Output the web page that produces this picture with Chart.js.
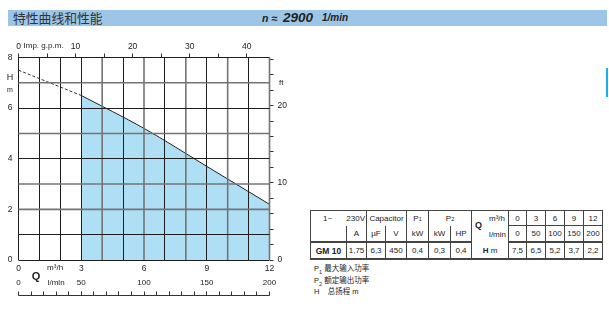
<!DOCTYPE html>
<html>
<head>
<meta charset="utf-8">
<script src="https://cdn.jsdelivr.net/npm/chart.js@4.4.1/dist/chart.umd.min.js"></script>
<style>
body { margin: 0; width: 609px; height: 310px; background: #fff; position: relative; overflow: hidden;
       font-family: 'Liberation Sans', Arial, sans-serif; color: #222; }
#bar { position: absolute; left: 8px; top: 10px; width: 599px; height: 16px; background: #9dc5e6; }
#bar .cn { position: absolute; left: 5px; top: 0; font: 400 12.8px 'Noto Sans CJK SC'; line-height: 16px; color: #333; }
#bar .sp { position: absolute; top: 0; line-height: 16px; font-weight: bold; font-style: italic; color: #222; white-space: nowrap; }
#marker { position: absolute; left: 606px; top: 68px; width: 2px; height: 29px; background: #19aef0; }
#c { position: absolute; left: 0; top: 0; }
#spec { position: absolute; left: 310px; top: 210px; width: 292px; border-collapse: collapse; table-layout: fixed;
        font-size: 8px; border-top: 1px solid #444; border-right: 1px solid #444; border-left: 1px solid #444; }
#spec td { padding: 0; text-align: center; white-space: nowrap; border-left: 1px solid #444; vertical-align: middle; }
#spec tr.r1 td { height: 14px; }
#spec tr.r2 td { height: 15px; border-bottom: 2px solid #444; }
#spec tr.r3 td { height: 15px; border-bottom: 2px solid #444; }
#spec tr.r1 td.v { border-bottom: 1px solid #444; }
#spec sub { font-size: 5.5px; vertical-align: baseline; position: relative; top: 0; }
#notes { position: absolute; left: 314px; top: 264px; font-size: 7.5px; line-height: 8px; color: #222; }
#notes .cn { font-family: 'Noto Sans CJK SC'; }
</style>
</head>
<body>
<div id="bar">
  <span class="cn">特性曲线和性能</span>
  <span class="sp" style="left:254px;font-size:10.5px">n ≈</span>
  <span class="sp" style="left:275px;font-size:13.5px">2900</span>
  <span class="sp" style="left:314px;font-size:10px">1/min</span>
</div>
<div id="marker"></div>
<canvas id="c" width="300" height="310"></canvas>
<table id="spec">
  <colgroup>
    <col style="width:36px"><col style="width:20px"><col style="width:19px"><col style="width:21px">
    <col style="width:22px"><col style="width:22px"><col style="width:21px"><col style="width:37px">
    <col style="width:18px"><col style="width:19px"><col style="width:19px"><col style="width:19px"><col style="width:19px">
  </colgroup>
  <tr class="r1" id="row1">
    <td colspan="2" style="text-align:left"><span style="margin-left:12px">1~</span><span style="float:right;margin-right:1px">230V</span></td>
    <td colspan="2">Capacitor</td>
    <td>P<sub>1</sub></td>
    <td colspan="2">P<sub>2</sub></td>
    <td rowspan="2" style="position:relative;text-align:left">
      <span style="position:absolute;right:3px;top:3px">m³/h</span>
      <span style="position:absolute;left:3px;top:9px;font-weight:bold;font-size:9px">Q</span>
      <span style="position:absolute;right:2px;top:19px">l/min</span>
    </td>
  </tr>
  <tr class="r2" id="row2">
    <td></td><td>A</td><td>µF</td><td>V</td><td>kW</td><td>kW</td><td>HP</td>
  </tr>
  <tr class="r3" id="row3">
    <td style="font-weight:bold;font-size:8.5px">GM 10</td>
  </tr>
</table>
<div id="notes">
  <div>P<sub style="font-size:5.5px">1</sub> <span class="cn">最大输入功率</span></div>
  <div>P<sub style="font-size:5.5px">2</sub> <span class="cn">额定输出功率</span></div>
  <div>H&nbsp;&nbsp;&nbsp; <span class="cn">总扬程</span> m</div>
</div>
<script>
// unit conversions for the secondary axes
const M3H_PER_GPM = 0.272765;
const M_PER_FT = 0.3048;
const M3H_PER_LMIN = 0.06;

// pump curve GM 10, n = 2900 1/min
const flowM3h = [0, 3, 6, 9, 12];
const flowLmin = [0, 50, 100, 150, 200];
const headM = [7.5, 6.5, 5.2, 3.7, 2.2];
const motorSpec = ['1,75', '6,3', '450', '0,4', '0,3', '0,4'];

// tick labels shown on each axis
const m3hLabels = [0, 3, 6, 9, 12];
const headLabels = [0, 2, 4, 6, 8];
const gpmLabels = [0, 10, 20, 30, 40];
const ftLabels = [0, 10, 20];

const FONT = 'Liberation Sans';
const GRID_DARK = '#1e1e1e';
const GRID_GREY = '#747474';
const greyX = [4, 6, 8, 10, 12];
const greyY = [2, 3, 5, 7];

// --- table cells from the same arrays ---
const addCells = (rowId, values, cls) => {
    const row = document.getElementById(rowId);
    values.forEach(v => {
        const td = document.createElement('td');
        td.textContent = v;
        if (cls) td.className = cls;
        row.appendChild(td);
    });
};
addCells('row1', flowM3h, 'v');
addCells('row2', flowLmin);
addCells('row3', motorSpec);
const hCell = document.createElement('td');
hCell.innerHTML = '<b>H</b> m';
document.getElementById('row3').appendChild(hCell);
addCells('row3', headM.map(v => v.toFixed(1).replace('.', ',')));

// --- chart ---
const points = flowM3h.map((q, i) => ({ x: q, y: headM[i] }));

// grid goes on top of the blue operating range, as in the catalogue sheet
const gridOnTop = {
    id: 'gridOnTop',
    afterDatasetsDraw(chart) {
        const { ctx, chartArea: a, scales: { x, y } } = chart;
        ctx.save();
        const line = (grey, x0, y0, x1, y1) => {
            ctx.strokeStyle = grey ? GRID_GREY : GRID_DARK;
            ctx.lineWidth = grey ? 1.6 : 1;
            ctx.beginPath();
            ctx.moveTo(x0, y0);
            ctx.lineTo(x1, y1);
            ctx.stroke();
        };
        x.ticks.forEach(t => {
            const grey = greyX.includes(t.value);
            const px = grey ? x.getPixelForValue(t.value) : Math.floor(x.getPixelForValue(t.value)) + 0.5;
            line(grey, px, a.top, px, a.bottom);
        });
        y.ticks.forEach(t => {
            const grey = greyY.includes(t.value);
            const py = grey ? y.getPixelForValue(t.value) : Math.floor(y.getPixelForValue(t.value)) + 0.5;
            line(grey, a.left, py, a.right, py);
        });
        ctx.restore();
    }
};

const extras = {
    id: 'extras',
    afterDraw(chart) {
        const { ctx, scales: { x } } = chart;
        ctx.save();
        ctx.fillStyle = '#222';
        ctx.strokeStyle = '#333';
        ctx.textBaseline = 'middle';

        ctx.font = `8px "${FONT}"`;
        ctx.textAlign = 'left';
        ctx.fillText('Imp. g.p.m.', x.getPixelForValue(0) + 5, 46);
        ctx.fillText('ft', 279, 83);

        ctx.textAlign = 'center';
        ctx.font = `9px "${FONT}"`;
        ctx.fillText('H', 10, 78);
        ctx.font = `7px "${FONT}"`;
        ctx.fillText('m', 10, 90);

        ctx.font = `8px "${FONT}"`;
        ctx.fillText('m³/h', x.getPixelForValue(1.75), 268);
        ctx.fillText('l/min', x.getPixelForValue(1.8), 283);
        flowLmin.forEach(v => ctx.fillText(String(v), x.getPixelForValue(v * M3H_PER_LMIN), 283));

        ctx.font = `bold 11px "${FONT}"`;
        ctx.fillText('Q', 36, 277);

        // l/min ruler below the axis, a tick every 10 l/min
        const yr = 295.5;
        ctx.lineWidth = 1;
        ctx.beginPath();
        ctx.moveTo(x.getPixelForValue(0), yr);
        ctx.lineTo(x.getPixelForValue(12), yr);
        for (let l = 0; l <= 200; l += 10) {
            const px = Math.floor(x.getPixelForValue(l * M3H_PER_LMIN)) + 0.5;
            ctx.moveTo(px, yr);
            ctx.lineTo(px, yr - 4);
        }
        ctx.stroke();
        ctx.restore();
    }
};

new Chart(document.getElementById('c'), {
    type: 'line',
    data: {
        datasets: [
            {
                // operating range, filled
                data: points.slice(1),
                borderColor: '#222',
                borderWidth: 1,
                backgroundColor: '#afdff5',
                fill: 'origin',
                cubicInterpolationMode: 'monotone',
                pointRadius: 0,
            },
            {
                data: points.slice(0, 2),
                borderColor: '#333',
                borderWidth: 1,
                borderDash: [3, 2],
                fill: false,
                pointRadius: 0,
            },
        ],
    },
    options: {
        responsive: false,
        devicePixelRatio: 1,
        animation: false,
        layout: { padding: { top: 30, left: 0, right: 0, bottom: 0 } },
        plugins: { legend: { display: false }, tooltip: { enabled: false } },
        scales: {
            x: {
                type: 'linear', position: 'bottom', min: 0, max: 12,
                afterFit: s => { s.height = 50; },
                border: { display: false },
                grid: { display: false, drawTicks: false },
                ticks: {
                    stepSize: 1, autoSkip: false, maxRotation: 0, padding: 4, color: '#222',
                    font: { family: FONT, size: 8.5 },
                    callback: v => m3hLabels.includes(v) ? String(v) : '',
                },
            },
            y: {
                type: 'linear', position: 'left', min: 0, max: 8,
                afterFit: s => { s.width = 18.5; },
                border: { display: false },
                grid: { display: false, drawTicks: false },
                ticks: {
                    stepSize: 1, autoSkip: false, padding: 6, color: '#222',
                    font: { family: FONT, size: 8.5 },
                    callback: v => headLabels.includes(v) ? String(v) : '',
                },
            },
            x2: {
                type: 'linear', position: 'top', min: 0, max: 12 / M3H_PER_GPM,
                afterFit: s => { s.height = 27.5; },
                border: { display: false },
                grid: { drawOnChartArea: false, tickLength: 4, color: '#333' },
                ticks: {
                    stepSize: 5, includeBounds: false, autoSkip: false, maxRotation: 0, padding: 2, color: '#222',
                    font: { family: FONT, size: 8.5 },
                    callback: v => gpmLabels.includes(v) ? String(v) : '',
                },
            },
            y2: {
                type: 'linear', position: 'right', min: 0, max: 8 / M_PER_FT,
                afterFit: s => { s.width = 30.5; },
                border: { display: false },
                grid: { drawOnChartArea: false, tickLength: 4, color: '#333' },
                ticks: {
                    stepSize: 2, includeBounds: false, autoSkip: false, padding: 4, color: '#222',
                    font: { family: FONT, size: 8.5 },
                    callback: v => ftLabels.includes(v) ? String(v) : '',
                },
            },
        },
    },
    plugins: [gridOnTop, extras],
});
</script>
</body>
</html>
